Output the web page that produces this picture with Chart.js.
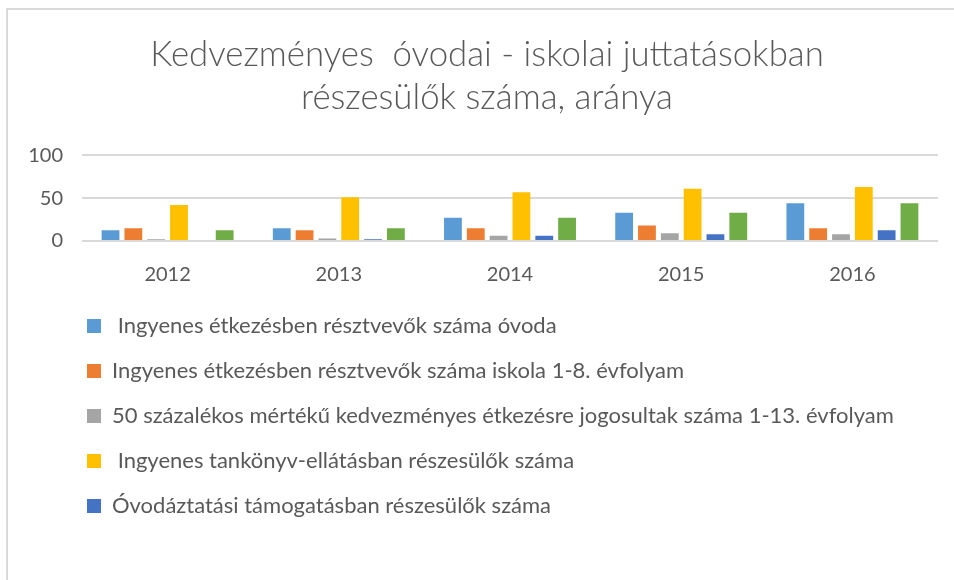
<!DOCTYPE html>
<html>
<head>
<meta charset="utf-8">
<script src="https://cdn.jsdelivr.net/npm/chart.js@4/dist/chart.umd.min.js"></script>
<style>
  html, body { margin: 0; padding: 0; background: #ffffff; }
  #frame { position: absolute; left: 6px; top: 8px; right: 0; bottom: 0;
           border-top: 2px solid #d9d9d9; border-left: 2px solid #d9d9d9; }
  #c { position: absolute; left: 0; top: 0; }
</style>
</head>
<body>
<div id="frame"></div>
<canvas id="c" width="954" height="580"></canvas>
<script>
const titleLines = ["Kedvezményes  óvodai - iskolai juttatásokban", "részesülők száma, aránya"];
const categories = ["2012", "2013", "2014", "2015", "2016"];
const seriesNames = [
  " Ingyenes étkezésben résztvevők száma óvoda",
  "Ingyenes étkezésben résztvevők száma iskola 1-8. évfolyam",
  "50 százalékos mértékű kedvezményes étkezésre jogosultak száma 1-13. évfolyam",
  " Ingyenes tankönyv-ellátásban részesülők száma",
  "Óvodáztatási támogatásban részesülők száma",
  "Rendszeres gyermekvédelmi kedvezményben részesülők száma"
];
const ovodaEtkezes   = [12.5, 15, 27, 33, 44];
const iskolaEtkezes  = [15, 12.5, 15, 18, 15];
const felaruEtkezes  = [2, 3, 6, 9, 8];
const tankonyv       = [42, 51, 57, 61, 63];
const ovodaztatas    = [0, 2, 6, 8, 12.5];
const rgyk           = [12.5, 15, 27, 33, 44];
const yTicks = [0, 50, 100];
const seriesColors = ["#5B9BD5", "#ED7D31", "#A5A5A5", "#FFC000", "#4472C4", "#70AD47"];

const seriesValues = [ovodaEtkezes, iskolaEtkezes, felaruEtkezes, tankonyv, ovodaztatas, rgyk];
const legendCount = 5;

const layoutTweak = {
  id: 'layoutTweak',
  afterLayout(chart) {
    if (chart.legend) { chart.legend.left = 64; }
    if (chart.titleBlock) { chart.titleBlock.left += 8; chart.titleBlock.right += 8; }
  }
};

new Chart(document.getElementById('c'), {
  type: 'bar',
  data: {
    labels: categories,
    datasets: seriesValues.map((vals, i) => ({
      label: seriesNames[i],
      data: vals,
      backgroundColor: seriesColors[i],
      borderWidth: 0,
      categoryPercentage: 0.8,
      barPercentage: 0.78
    }))
  },
  plugins: [layoutTweak],
  options: {
    responsive: false,
    animation: false,
    devicePixelRatio: 1,
    layout: { padding: { left: 20, right: 16, top: 0, bottom: 53 } },
    plugins: {
      title: {
        display: true,
        text: titleLines,
        color: '#595959',
        font: { family: 'Lato', size: 34.8, weight: 300, lineHeight: 1.24 },
        padding: { top: 33, bottom: 36 }
      },
      legend: {
        display: true,
        position: 'bottom',
        align: 'start',
        labels: {
          color: '#595959',
          font: { family: 'Lato', size: 22 },
          boxWidth: 14,
          boxHeight: 14,
          padding: 23,
          filter: (item) => item.datasetIndex < legendCount
        }
      },
      tooltip: { enabled: false }
    },
    scales: {
      x: {
        grid: { display: false },
        border: { display: false },
        ticks: { color: '#595959', font: { family: 'Lato', size: 20 }, padding: 14 },
        afterFit: (s) => { s.height = 51; }
      },
      y: {
        min: 0,
        max: 100,
        afterBuildTicks: (s) => { s.ticks = yTicks.map(v => ({ value: v })); },
        grid: { color: '#d9d9d9', lineWidth: 2, drawTicks: false },
        border: { display: false },
        ticks: { color: '#595959', font: { family: 'Lato', size: 20 }, padding: 19 },
        afterFit: (s) => { s.width = 62; }
      }
    }
  }
});
</script>
</body>
</html>
